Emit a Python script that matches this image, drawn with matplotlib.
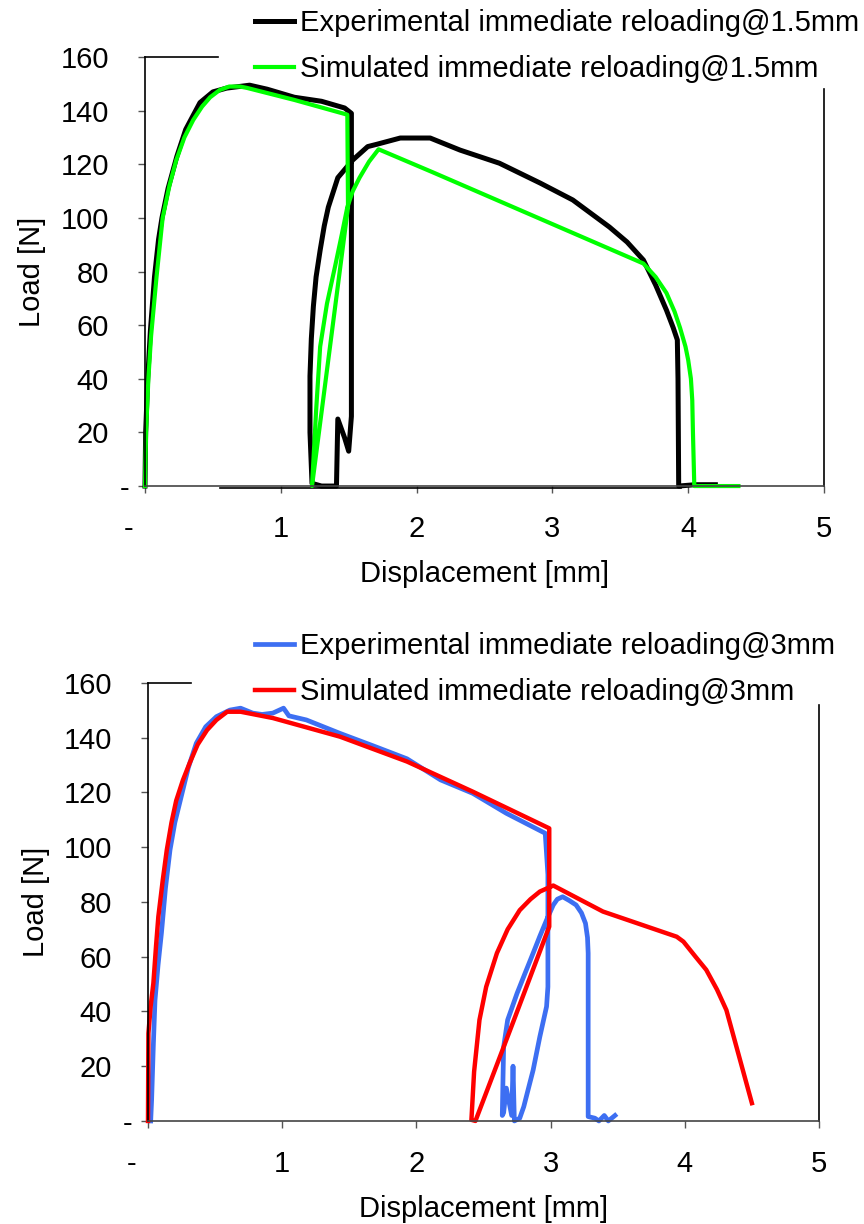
import matplotlib
matplotlib.use('Agg')
import matplotlib.pyplot as plt

plt.rcParams['font.family'] = ['Liberation Sans', 'DejaVu Sans']

# --- top panel: reload @1.5mm -------------------------------------------------
exp15_x = [0, 0.005, 0.02, 0.04, 0.07, 0.10, 0.125, 0.17, 0.235, 0.30, 0.405, 0.50,
           0.60, 0.77, 0.90, 1.10, 1.30, 1.47, 1.52,
           1.52, 1.50, 1.47, 1.42, 1.41, 1.30, 1.23,
           1.215, 1.215, 1.225, 1.24, 1.26, 1.29, 1.32, 1.35, 1.42, 1.53, 1.64, 1.71,
           1.88, 2.10, 2.32, 2.61, 2.91, 3.15, 3.42, 3.55, 3.67, 3.76, 3.84, 3.89,
           3.92, 3.925, 3.93, 4.05, 4.20]
exp15_y = [0, 20, 40, 58, 78, 92, 100, 111, 123, 133, 143, 147,
           148.4, 149.5, 148, 145, 143.5, 141, 139,
           26, 13, 18, 25, 0, 0, 1,
           20, 41, 55, 67, 78, 88, 97, 104, 115, 121.6, 126.6, 127.5,
           129.8, 129.8, 125.3, 120.4, 113, 106.7, 96.6, 91, 84.3, 75, 65.6, 59,
           54.5, 40, 0, 0.5, 0.5]
exp15_ret_x = [3.95, 0.55]
exp15_ret_y = [-0.8, -0.8]

sim15_x = [0, 0.008, 0.025, 0.045, 0.085, 0.13, 0.18, 0.23, 0.29, 0.355, 0.42, 0.48,
           0.55, 0.62, 0.70, 0.75, 1.10, 1.49,
           1.495, 1.23,
           1.26, 1.29, 1.34, 1.40, 1.45, 1.49, 1.53, 1.58, 1.65, 1.72,
           2.12, 3.67, 3.76, 3.84, 3.90, 3.94, 3.98, 4.00, 4.02, 4.03, 4.035, 4.04,
           4.045, 4.37]
sim15_y = [0, 20, 40, 56, 78, 100, 112, 121.5, 130, 136.5, 141.5, 145,
           147.7, 149, 149, 148.5, 144, 138.5,
           104, 0,
           28, 52, 68, 82, 94, 104, 110, 115, 121, 125.6,
           117, 83, 78, 72, 65, 59, 52, 47, 40, 32, 20, 10,
           0, 0]

# --- bottom panel: reload @3mm ------------------------------------------------
exp3_x = [0.02, 0.027, 0.04, 0.052, 0.075, 0.10, 0.13, 0.164, 0.20, 0.24, 0.30, 0.36,
          0.43, 0.51, 0.61, 0.69, 0.78, 0.85, 0.93, 1.01, 1.05, 1.18, 1.43, 1.68,
          1.93, 2.18, 2.42, 2.67, 2.96,
          2.98, 2.98, 2.97, 2.92, 2.87, 2.80, 2.77,
          2.73, 2.72, 2.71, 2.67, 2.65, 2.64,
          2.65, 2.68, 2.75, 2.81, 2.87, 2.92, 2.97, 3.02, 3.05, 3.09, 3.14, 3.19,
          3.23, 3.26, 3.275, 3.28, 3.28,
          3.33, 3.36, 3.40, 3.43, 3.48]
exp3_y = [0, 7.7, 28, 44, 57, 68.6, 85, 99, 109, 117, 129, 138,
          144, 147.7, 150.1, 150.8, 149, 148.5, 149, 150.8, 148, 146.5, 141.6, 137,
          132.3, 124.6, 119.7, 112.4, 105.1,
          90, 49, 41.8, 30.8, 18.6, 5.2, 1,
          0, 20, 2, 12, 3, 2,
          27, 36.9, 46.6, 54, 61.3, 67.5, 73.4, 78.9, 81, 81.9, 80.5, 78.9,
          76, 72.2, 67, 61.3, 1.6,
          1, 0, 2, 0, 2]

sim3_x = [0, 0.003, 0.02, 0.04, 0.06, 0.077, 0.11, 0.14, 0.175, 0.21, 0.26, 0.31,
          0.37, 0.44, 0.51, 0.59, 0.69, 0.93, 1.43, 1.93, 2.42, 2.99,
          2.99, 2.72, 2.44,
          2.41, 2.43, 2.47, 2.52, 2.60, 2.68, 2.77, 2.85, 2.92, 3.02,
          3.39, 3.94, 3.99, 4.08, 4.16, 4.24, 4.31, 4.50]
sim3_y = [0, 32, 42, 50.3, 64, 74.6, 88, 99, 109, 117, 124.5, 130.7,
          137.5, 142.8, 146.5, 149.5, 149.5, 147.2, 140.4, 131.3, 120.3, 106.9,
          71, 36, 0,
          0.4, 18, 36.9, 49, 61.3, 70, 77, 81, 83.8, 86,
          76.5, 67.3, 65.5, 60, 55.2, 48, 40.5, 6.5]

x_ticks = [0, 1, 2, 3, 4, 5]
x_labels = ['-    ', '1', '2', '3', '4', '5']
y_ticks = [0, 20, 40, 60, 80, 100, 120, 140, 160]
y_labels = ['-', '20', '40', '60', '80', '100', '120', '140', '160']

FS = 21


def style_axes(ax, top_end, right_start):
    ax.set_xlim(0, 5); ax.set_ylim(0, 160)
    ax.set_xticks(x_ticks); ax.set_xticklabels(x_labels)
    ax.set_yticks(y_ticks); ax.set_yticklabels(y_labels)
    ax.tick_params(direction='out', length=5, width=1, color='#555555', labelsize=FS)
    ax.tick_params(axis='x', pad=16)
    ax.tick_params(axis='y', pad=21)
    ax.yaxis.get_major_ticks()[0].set_pad(6)
    for s in ax.spines.values():
        s.set_linewidth(1.2)
    ax.spines['left'].set_color('black')
    ax.spines['bottom'].set_color('#444444')
    ax.spines['right'].set_color('black')
    ax.spines['top'].set_color('black')
    ax.spines['top'].set_bounds(0, top_end)
    ax.spines['right'].set_bounds(0, right_start)
    ax.set_xlabel('Displacement [mm]', fontsize=FS, labelpad=12)
    ax.set_ylabel('Load [N]', fontsize=FS, labelpad=10)


def add_legend(ax, top_px):
    ax.legend(loc='upper left', bbox_to_anchor=(255 / 864, 1 - top_px / 1224),
              bbox_transform=fig.transFigure, frameon=False, fontsize=FS,
              handlelength=1.35, handletextpad=0.2, labelspacing=0.62,
              borderpad=0, borderaxespad=0)


fig = plt.figure(figsize=(8.64, 12.24), dpi=100)
ax1 = fig.add_axes([0.1678, 0.6029, 0.7859, 0.3505])
ax2 = fig.add_axes([0.1713, 0.0842, 0.7766, 0.3578])

ax1.plot(exp15_x, exp15_y, color='black', lw=3.6, clip_on=False,
         solid_joinstyle='round', label='Experimental immediate reloading@1.5mm')
ax1.plot(exp15_ret_x, exp15_ret_y, color='black', lw=1.2, clip_on=False)
ax1.plot(sim15_x, sim15_y, color='#00ff00', lw=3.0, clip_on=False,
         solid_joinstyle='round', label='Simulated immediate reloading@1.5mm')
style_axes(ax1, 0.54, 148)
add_legend(ax1, 9)

ax2.plot(exp3_x, exp3_y, color='#3d6ff2', lw=3.4, clip_on=False,
         solid_joinstyle='round', label='Experimental immediate reloading@3mm')
ax2.plot(sim3_x, sim3_y, color='#ff0000', lw=3.2, clip_on=False,
         solid_joinstyle='round', label='Simulated immediate reloading@3mm')
style_axes(ax2, 0.32, 152)
add_legend(ax2, 632)

fig.savefig('out.png', dpi=100)
